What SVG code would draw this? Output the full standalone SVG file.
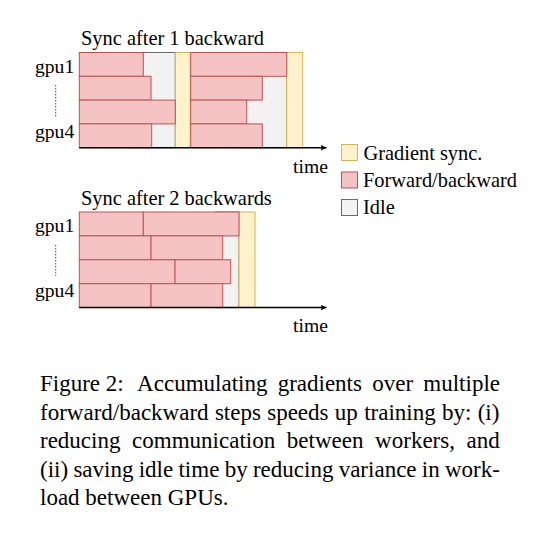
<svg xmlns="http://www.w3.org/2000/svg" width="540" height="538" viewBox="0 0 540 538">
<style>
text{font-family:"Liberation Serif","Times New Roman",serif;fill:#000}
.t{font-size:20.4px}
.l{font-size:19.6px}
.c{font-size:23px}
.fb{fill:#f6c3c4;stroke:#b85450;stroke-width:1}
.gs{fill:#fff2cc;stroke:#d6b656;stroke-width:1}
.id{fill:#f2f2f2;stroke:#6b6b6b;stroke-width:1}
.ax{stroke:#000;stroke-width:1.5;fill:none}
.dot{stroke:#555;stroke-width:1;stroke-dasharray:1.5 1.5;fill:none}
</style>
<defs>
<marker id="arr" viewBox="0 0 10 10" refX="10" refY="5" markerWidth="6" markerHeight="6" markerUnits="userSpaceOnUse" orient="auto"><path d="M0,0 L10,5 L0,10 L2.5,5 z" fill="#000"/></marker>
</defs>
<rect width="540" height="538" fill="#fff"/>

<g id="chart1">
<text class="t" x="81" y="44.5">Sync after 1 backward</text>
<text class="l" x="35" y="72.7">gpu1</text>
<text class="l" x="35" y="137.7">gpu4</text>
<line class="dot" x1="55.7" y1="85" x2="55.7" y2="117"/>
<rect class="id" x="130" y="52.5" width="45.3" height="95.2"/>
<rect class="id" x="240" y="52.5" width="46.7" height="95.2"/>
<rect class="gs" x="175.3" y="52.5" width="14.9" height="95.2"/>
<rect class="gs" x="286.7" y="52.5" width="16" height="95.2"/>
<rect class="fb" x="79.3" y="52.5" width="64" height="23.8"/>
<rect class="fb" x="79.3" y="76.3" width="71.7" height="23.8"/>
<rect class="fb" x="79.3" y="100.1" width="96" height="23.8"/>
<rect class="fb" x="79.3" y="123.9" width="72.4" height="23.8"/>
<rect class="fb" x="190.7" y="52.5" width="96" height="23.8"/>
<rect class="fb" x="190.7" y="76.3" width="71.6" height="23.8"/>
<rect class="fb" x="190.7" y="100.1" width="56" height="23.8"/>
<rect class="fb" x="190.7" y="123.9" width="71.6" height="23.8"/>
<text class="l" x="293" y="172.5">time</text>
</g>

<g id="chart2">
<text class="t" x="81" y="204.5">Sync after 2 backwards</text>
<text class="l" x="35" y="231.7">gpu1</text>
<text class="l" x="35" y="297.3">gpu4</text>
<line class="dot" x1="55.7" y1="245" x2="55.7" y2="276"/>
<rect class="id" x="215" y="212" width="24" height="95.6"/>
<rect class="gs" x="239" y="212" width="16" height="95.6"/>
<rect class="fb" x="79.3" y="212" width="64" height="23.9"/>
<rect class="fb" x="143.3" y="212" width="95.7" height="23.9"/>
<rect class="fb" x="79.3" y="235.9" width="71.7" height="23.9"/>
<rect class="fb" x="151" y="235.9" width="71.7" height="23.9"/>
<rect class="fb" x="79.3" y="259.8" width="95.7" height="23.9"/>
<rect class="fb" x="175" y="259.8" width="55.7" height="23.9"/>
<rect class="fb" x="79.3" y="283.7" width="71.7" height="23.9"/>
<rect class="fb" x="151" y="283.7" width="71.7" height="23.9"/>
<text class="l" x="293" y="331.5">time</text>
</g>

<g id="axes">
<line class="ax" x1="79.3" y1="147.7" x2="326.5" y2="147.7" marker-end="url(#arr)"/>
<line class="ax" x1="79.3" y1="307.6" x2="326.5" y2="307.6" marker-end="url(#arr)"/>
</g>

<g id="legend">
<rect class="gs" x="341.5" y="144.5" width="16" height="16"/>
<text class="t" x="363.5" y="159.5">Gradient sync.</text>
<rect class="fb" x="341.5" y="172" width="16" height="16"/>
<text class="t" x="363" y="186.5">Forward/backward</text>
<rect class="id" x="341.5" y="199.5" width="16" height="16"/>
<text class="t" x="363" y="213.7">Idle</text>
</g>

<g id="caption" class="c">
<text class="c" x="40" y="391">Figure 2:</text>
<text class="c" x="500" y="391" text-anchor="end" word-spacing="4.5">Accumulating gradients over multiple</text>
<text class="c" x="40" y="419.5" word-spacing="0.56">forward/backward steps speeds up training by: (i)</text>
<text class="c" x="40" y="448" word-spacing="5.9">reducing communication between workers, and</text>
<text class="c" x="40" y="476.5" word-spacing="-0.47">(ii) saving idle time by reducing variance in work-</text>
<text class="c" x="40" y="505">load between GPUs.</text>
</g>
</svg>
